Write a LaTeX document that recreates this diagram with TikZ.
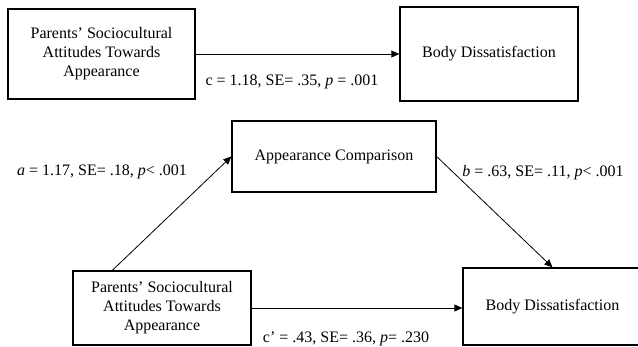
\documentclass[tikz,border=0pt]{standalone}
\usepackage{fontspec}
\setmainfont{Liberation Serif}
\usetikzlibrary{arrows.meta}

\begin{document}
\begin{tikzpicture}[x=1pt, y=-1pt,
  every node/.style={font=\fontsize{16}{19}\selectfont},
  varbox/.style={draw, rectangle, line width=1.3pt, align=center, inner sep=0pt},
  path/.style={line width=0.8pt, -{Triangle[length=8pt,width=7pt]}}]

\useasboundingbox (0,0) rectangle (638,346);

% total effect
\node[varbox, minimum width=187pt, minimum height=90pt] (ptop) at (101.5,54) {Parents’ Sociocultural\\Attitudes Towards\\Appearance};
\node[varbox, minimum width=178pt, minimum height=94pt] (btop) at (489,54) {Body Dissatisfaction};

\node (lc) at (292,82) {c = 1.18, SE= .35, \textit{p} = .001};

\draw[path] (ptop.east) -- (btop.west);

% mediation model
\node[varbox, minimum width=204pt, minimum height=71pt] (comp) at (334,156.5) {Appearance Comparison};
\node[varbox, minimum width=178pt, minimum height=74pt] (pbot) at (162,308) {Parents’ Sociocultural\\Attitudes Towards\\Appearance};
\node[varbox, minimum width=179pt, minimum height=77pt] (bbot) at (552.5,306.5) {Body Dissatisfaction};

\node (la) at (102,172) {\textit{a} = 1.17, SE= .18, \textit{p}< .001};
\node (lb) at (543,173) {\textit{b} = .63, SE= .11, \textit{p}< .001};
\node (lcp) at (346,339) {c’ = .43, SE= .36, \textit{p}= .230};

\draw[path] ([xshift=40pt]pbot.north west) -- (comp.west);
\draw[path] (comp.east) -- (bbot.north);
\draw[path] (pbot.east) -- (pbot.east -| bbot.west);

\end{tikzpicture}
\end{document}
